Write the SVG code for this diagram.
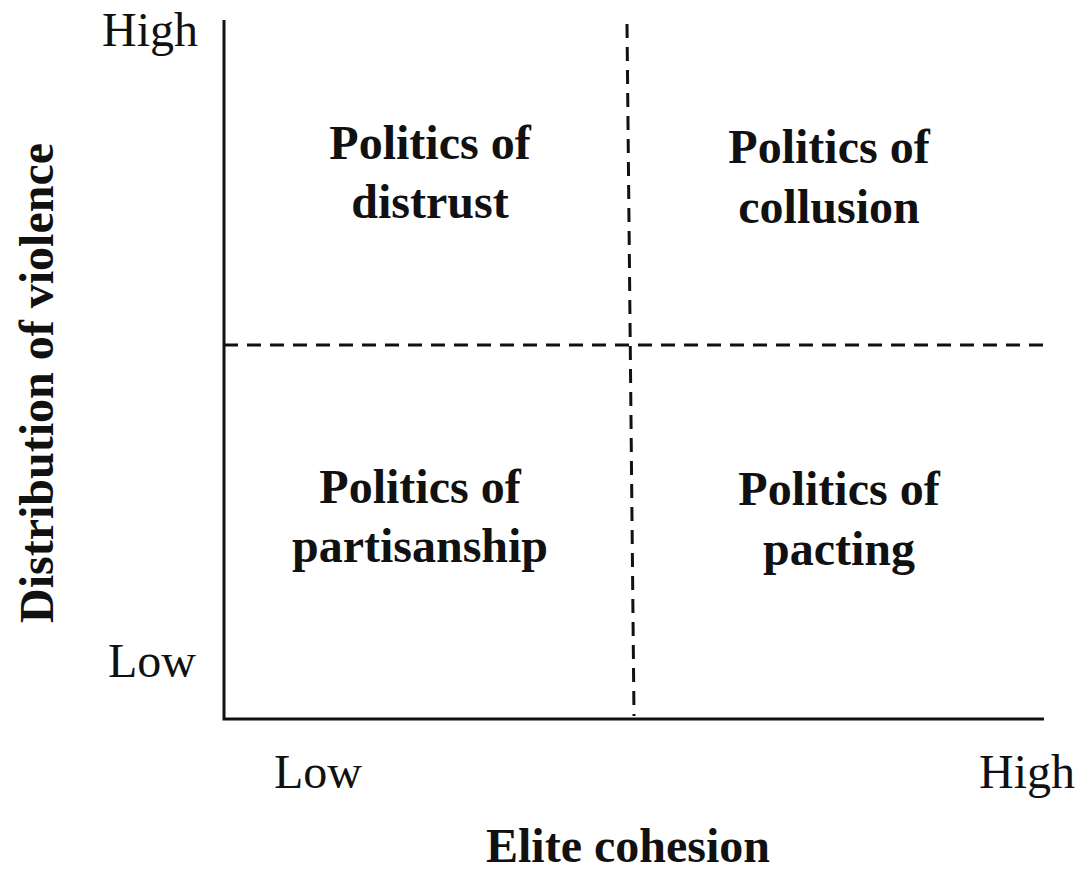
<svg xmlns="http://www.w3.org/2000/svg" width="1082" height="873" viewBox="0 0 1082 873">
<style>
.r{font-family:"Liberation Serif","Times New Roman",serif;font-size:48px;fill:#111}
.b{font-family:"Liberation Serif","Times New Roman",serif;font-size:48px;font-weight:bold;fill:#111;text-anchor:middle}
.ax{stroke:#111;stroke-width:3;fill:none}
.d{stroke:#111;stroke-width:3;fill:none;stroke-dasharray:14 9}
</style>
<rect width="1082" height="873" fill="#fff"/>
<g id="connectors">
<path class="ax" d="M224 20 V719 H1044"/>
<path class="d" d="M224 345 H1046"/>
<path class="d" d="M627 24 L634 716"/>
</g>
<g id="axis-labels">
<text class="r" x="102" y="46">High</text>
<text class="r" x="108" y="677">Low</text>
<text class="r" x="274" y="788">Low</text>
<text class="r" x="979" y="788">High</text>
<text class="b" x="628" y="862">Elite cohesion</text>
<text class="b" transform="translate(53 383) rotate(-90)">Distribution of violence</text>
</g>
<g id="q-distrust"><text class="b" x="430" y="159">Politics of</text><text class="b" x="430" y="218">distrust</text></g>
<g id="q-collusion"><text class="b" x="829" y="163">Politics of</text><text class="b" x="829" y="223">collusion</text></g>
<g id="q-partisanship"><text class="b" x="420" y="503">Politics of</text><text class="b" x="420" y="562">partisanship</text></g>
<g id="q-pacting"><text class="b" x="839" y="505">Politics of</text><text class="b" x="839" y="565">pacting</text></g>
</svg>
